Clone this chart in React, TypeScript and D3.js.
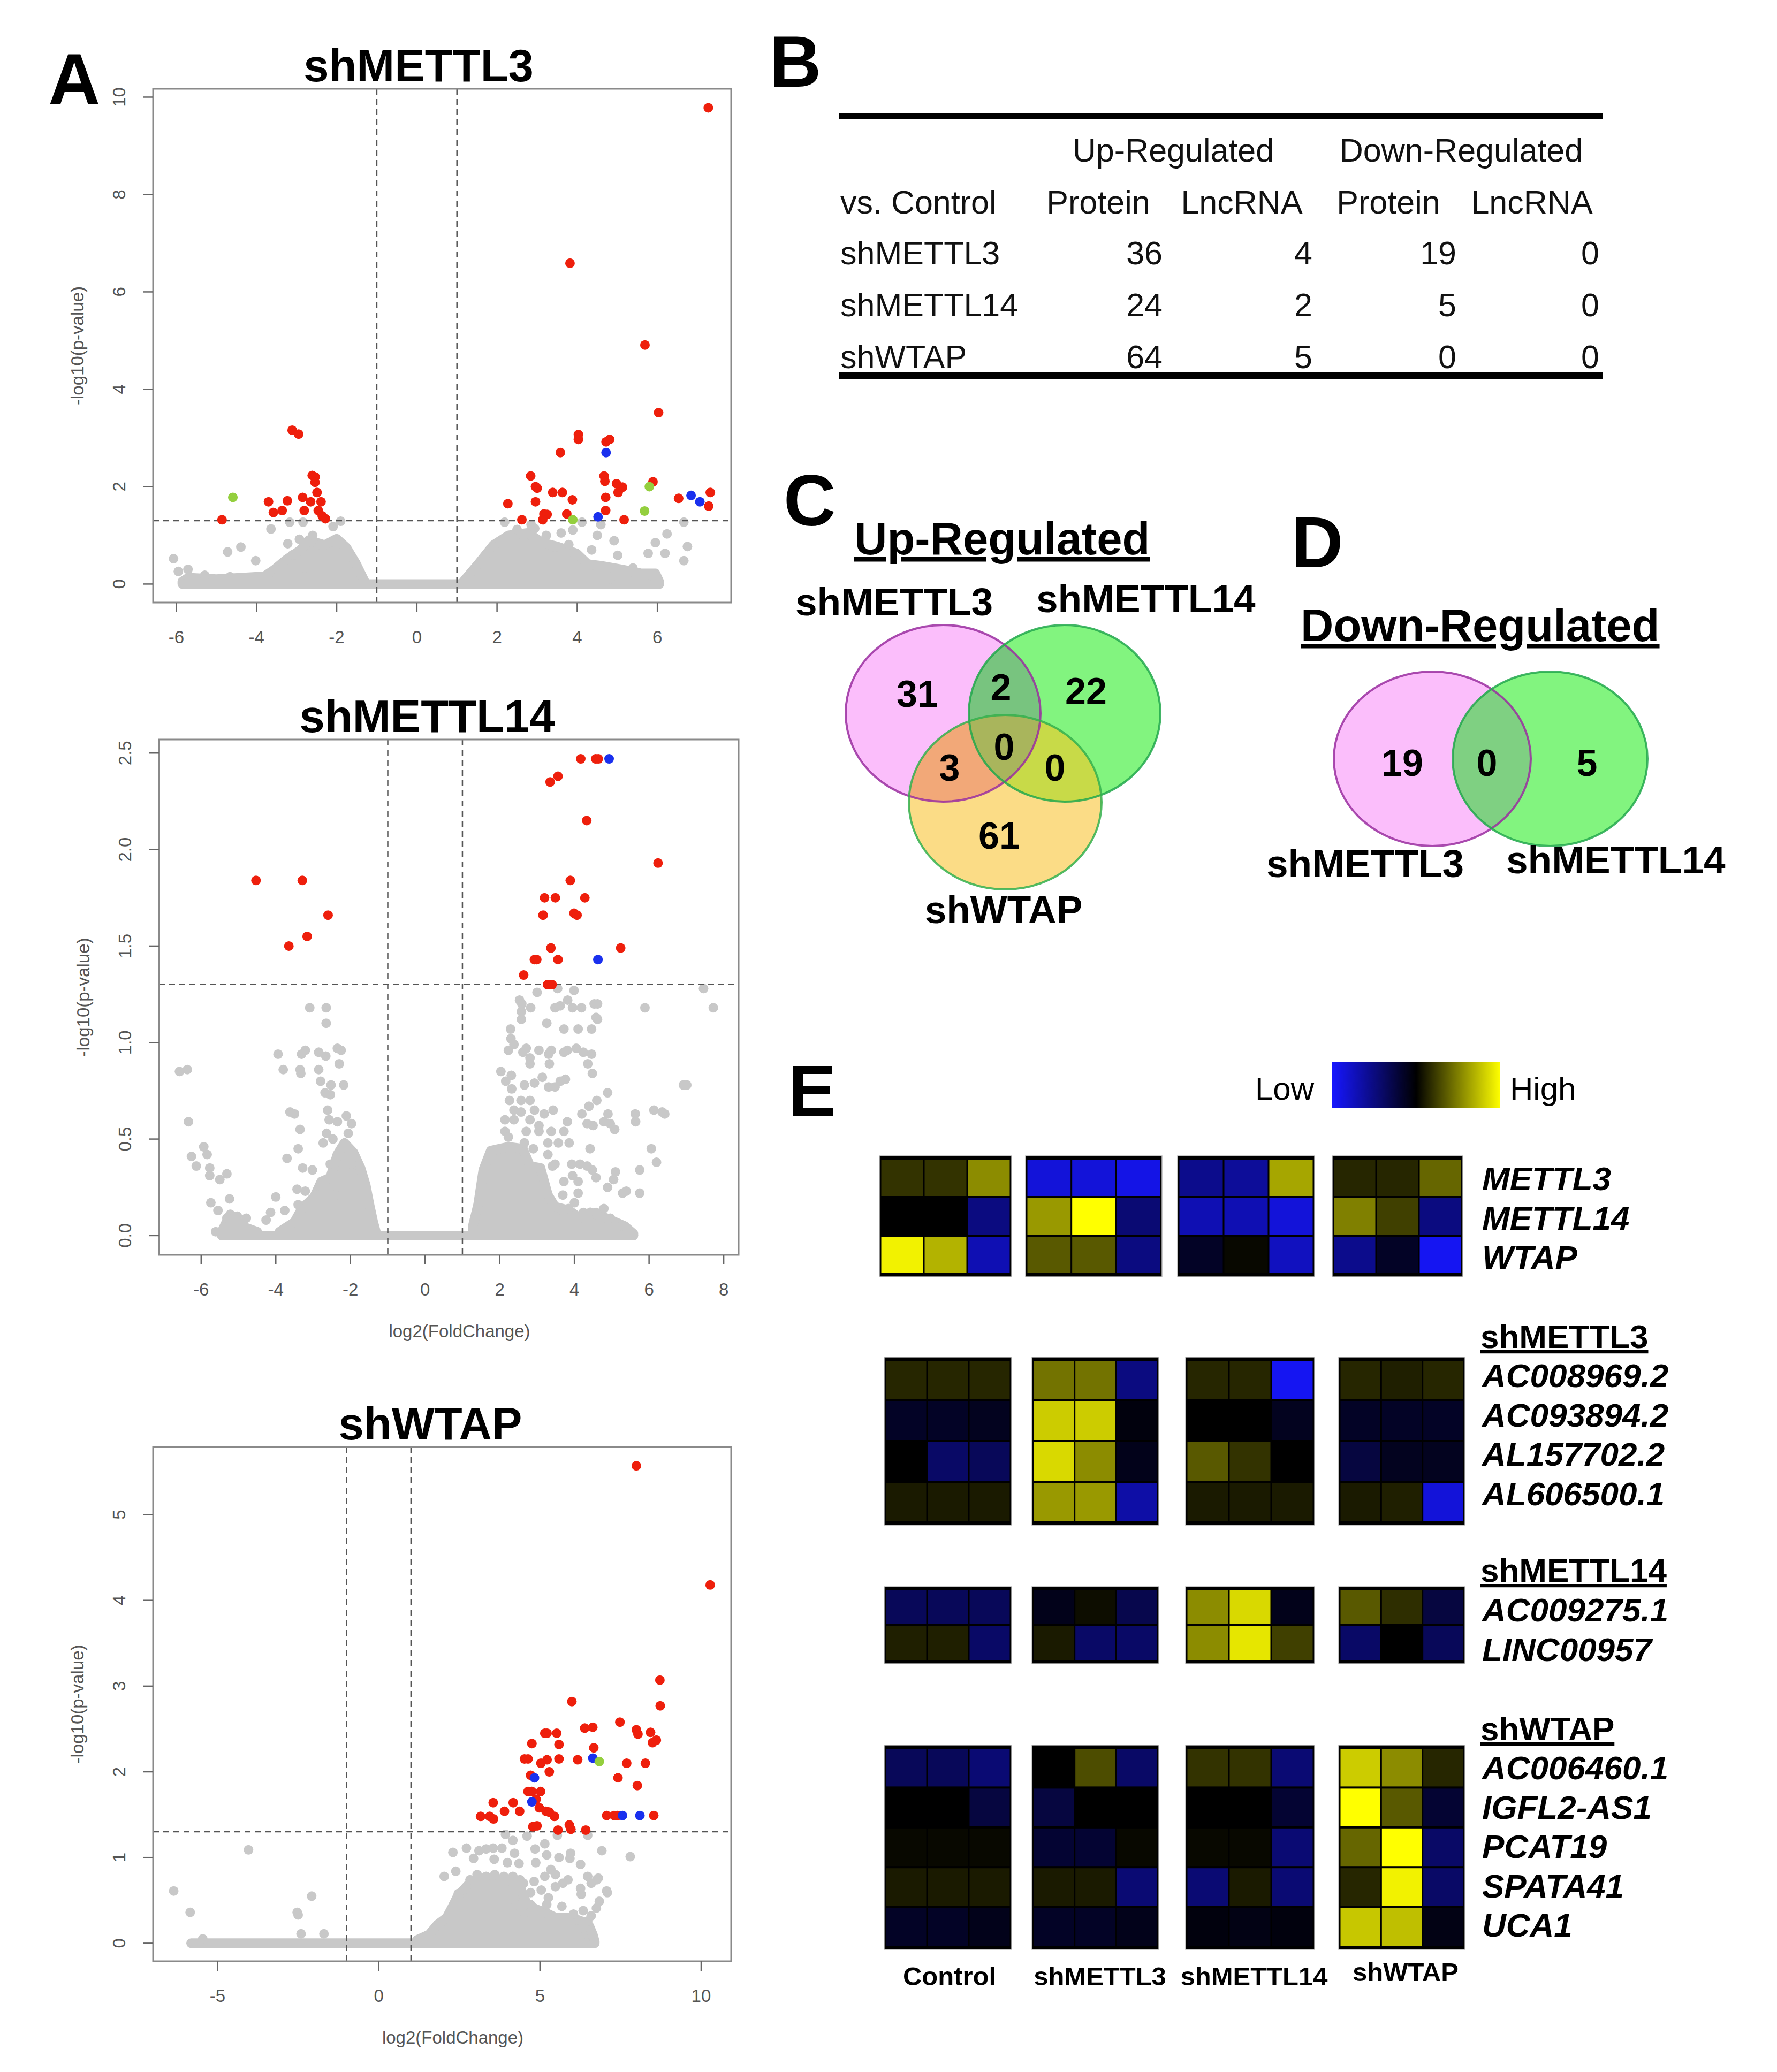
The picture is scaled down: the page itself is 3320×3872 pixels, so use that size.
import React from 'react'
import * as d3 from 'd3'

const FONT = '"Liberation Sans", Arial, Helvetica, sans-serif'

type Pt = [number, number]

// ---------- A: volcano plots (log2 fold change, -log10 p) ----------
const m3Red: Pt[] = [
    [7.27, 9.78], [3.82, 6.59], [5.69, 4.91], [6.03, 3.52], [-3.11, 3.16], [-2.95, 3.08], [4.03, 3.07], [4.03, 2.97],
    [4.72, 2.92], [4.81, 2.97], [3.58, 2.7], [-2.61, 2.23], [-2.54, 2.2], [-2.54, 2.09], [-2.49, 1.88], [-2.85, 1.78],
    [-2.65, 1.69], [-2.39, 1.69], [-3.7, 1.69], [-3.23, 1.71], [-3.58, 1.47], [-3.36, 1.51], [-2.81, 1.51], [-2.46, 1.51],
    [-2.36, 1.4], [-2.28, 1.34], [-4.86, 1.32], [2.84, 2.22], [2.96, 2.0], [3.0, 1.97], [2.27, 1.65], [2.96, 1.69],
    [3.39, 1.88], [3.63, 1.88], [3.88, 1.73], [3.17, 1.44], [3.25, 1.43], [3.14, 1.32], [2.62, 1.32], [3.74, 1.44],
    [4.67, 2.22], [4.69, 2.11], [4.71, 1.78], [4.71, 1.51], [4.98, 2.06], [5.13, 1.99], [5.02, 1.88], [5.89, 2.1],
    [5.17, 1.32], [6.53, 1.76], [7.32, 1.88], [7.28, 1.6]
]
const m3Blue: Pt[] = [[4.72, 2.7], [4.52, 1.38], [6.84, 1.82], [7.06, 1.69]]
const m3Green: Pt[] = [[-4.59, 1.78], [5.8, 2.0], [5.68, 1.5], [3.89, 1.32]]
const m3Gray: Pt[] = [
    [-6.07, 0.52], [-5.95, 0.26], [-5.71, 0.3], [-5.29, 0.18], [-4.72, 0.66], [-4.39, 0.76], [-4.66, 0.15], [-4.02, 0.48],
    [-3.64, 1.13], [-3.22, 0.83], [-3.17, 1.27], [-2.93, 0.92], [-2.84, 1.27], [-2.79, 0.33], [-2.42, 0.81], [-2.09, 1.18],
    [-1.9, 1.29], [-3.36, 0.41], [-3.5, 0.3], [-3.1, 0.6], [-2.6, 1.0], [1.91, 0.77], [2.19, 1.27], [2.85, 1.22],
    [2.94, 1.14], [3.23, 1.0], [3.41, 0.77], [3.79, 0.81], [3.89, 1.11], [4.12, 1.27], [4.36, 0.7], [4.5, 1.0],
    [4.59, 1.22], [4.92, 0.89], [5.01, 0.59], [5.77, 0.63], [5.95, 0.85], [6.24, 1.03], [6.19, 0.63], [6.75, 0.77],
    [6.66, 0.48], [6.66, 1.27], [5.39, 0.33], [4.83, 0.11], [3.6, 1.05], [2.5, 1.12]
]
const m3Wings: Pt[][] = [
    [[-5.85, 0.05], [-5.7, 0.13], [-5.0, 0.1], [-3.8, 0.16], [-3.55, 0.3], [-3.26, 0.5], [-2.9, 0.7], [-2.7, 0.9],
        [-2.3, 0.8], [-2.0, 0.93], [-1.76, 0.75], [-1.52, 0.42], [-1.3, 0.05]],
    [[1.16, 0.05], [1.53, 0.41], [1.91, 0.8], [2.29, 1.0], [2.76, 1.05], [3.13, 0.85], [3.51, 0.77], [3.98, 0.63],
        [4.26, 0.41], [4.64, 0.37], [5.11, 0.3], [5.58, 0.22], [5.95, 0.22], [6.05, 0.04]]
]
const m3Baseline: Pt = [-5.8, 5.75]

const m14Red: Pt[] = [
    [4.17, 2.47], [4.57, 2.47], [4.64, 2.47], [3.35, 2.35], [3.56, 2.38], [4.33, 2.15], [6.24, 1.93], [-4.53, 1.84],
    [-3.29, 1.84], [-2.6, 1.66], [-3.16, 1.55], [-3.65, 1.5], [3.89, 1.84], [3.2, 1.75], [3.49, 1.75], [4.28, 1.75],
    [3.16, 1.66], [3.99, 1.67], [4.07, 1.66], [3.37, 1.49], [5.24, 1.49], [2.93, 1.43], [2.99, 1.43], [3.56, 1.43],
    [2.64, 1.35], [3.28, 1.3], [3.4, 1.3]
]
const m14Blue: Pt[] = [[4.93, 2.47], [4.63, 1.43]]
const m14Green: Pt[] = []
const m14Gray: Pt[] = [
    // left side
    [-6.58, 0.85], [-6.37, 0.86], [-6.34, 0.59], [-5.93, 0.46], [-5.84, 0.42], [-6.26, 0.41], [-6.13, 0.36], [-5.77, 0.35],
    [-5.77, 0.31], [-5.5, 0.29], [-5.31, 0.32], [-5.74, 0.17], [-5.55, 0.13], [-5.24, 0.19], [-5.31, 0.09], [-5.03, 0.1],
    [-4.79, 0.09], [-5.61, 0.02], [-4.0, 0.2], [-4.26, 0.08], [-4.14, 0.12], [-3.76, 0.13], [-3.94, 0.94], [-3.8, 0.86],
    [-3.62, 0.64], [-3.5, 0.63], [-3.35, 0.55], [-3.4, 0.45], [-3.7, 0.4], [-3.28, 0.35], [-3.02, 0.34], [-3.43, 0.24],
    [-3.21, 0.23], [-2.9, 0.21], [-3.4, 0.16], [-3.09, 1.18], [-2.65, 1.18], [-2.65, 1.1], [-3.21, 0.96], [-3.31, 0.94],
    [-2.85, 0.95], [-2.66, 0.93], [-2.35, 0.97], [-2.25, 0.96], [-2.3, 0.89], [-3.35, 0.86], [-3.33, 0.84], [-2.85, 0.86],
    [-2.8, 0.8], [-2.52, 0.78], [-2.18, 0.78], [-2.68, 0.74], [-2.54, 0.73], [-2.61, 0.65], [-2.57, 0.6], [-2.11, 0.62],
    [-2.35, 0.59], [-1.97, 0.58], [-2.64, 0.53], [-2.06, 0.53], [-2.73, 0.48], [-2.47, 0.5], [-2.54, 0.37], [-2.64, 0.25],
    [-2.4, 0.21], [-1.97, 0.37],
    // right side
    [3.0, 1.26], [3.55, 1.28], [3.99, 1.27], [2.53, 1.22], [2.59, 1.2], [2.83, 1.18], [3.48, 1.18], [3.62, 1.19],
    [3.82, 1.22], [3.95, 1.18], [4.19, 1.18], [4.53, 1.2], [4.62, 1.2], [2.58, 1.16], [2.58, 1.12], [3.26, 1.1],
    [4.58, 1.13], [4.62, 1.12], [2.29, 1.07], [3.72, 1.07], [4.1, 1.07], [4.46, 1.07], [2.3, 1.02], [2.23, 0.96],
    [2.38, 0.99], [2.62, 0.95], [2.71, 0.97], [2.81, 0.92], [2.81, 0.89], [3.05, 0.96], [3.31, 0.94], [3.38, 0.96],
    [3.33, 0.89], [3.72, 0.95], [3.81, 0.96], [4.05, 0.97], [4.24, 0.95], [4.46, 0.94], [4.36, 0.89], [4.48, 0.84],
    [2.03, 0.85], [2.31, 0.83], [2.16, 0.8], [2.32, 0.76], [2.66, 0.78], [2.93, 0.79], [3.14, 0.82], [3.31, 0.77],
    [3.48, 0.77], [3.62, 0.8], [3.76, 0.81], [2.26, 0.7], [2.57, 0.7], [2.81, 0.7], [2.38, 0.65], [2.57, 0.64],
    [2.93, 0.65], [2.14, 0.6], [2.38, 0.6], [2.81, 0.6], [3.19, 0.63], [3.43, 0.65], [2.14, 0.54], [2.23, 0.51],
    [2.71, 0.54], [3.05, 0.54], [3.05, 0.57], [3.38, 0.54], [3.72, 0.54], [3.81, 0.59], [2.66, 0.48], [3.29, 0.48],
    [3.57, 0.48], [3.86, 0.48], [2.9, 0.45], [3.29, 0.42], [3.48, 0.37], [3.41, 0.36], [4.89, 0.74], [4.6, 0.7],
    [4.39, 0.67], [4.2, 0.63], [4.34, 0.58], [4.5, 0.57], [4.9, 0.63], [4.79, 0.59], [4.96, 0.58], [5.08, 0.55],
    [5.63, 0.63], [5.64, 0.59], [6.13, 0.65], [6.42, 0.63], [6.35, 0.64], [6.92, 0.78], [7.01, 0.78], [5.89, 1.18],
    [7.46, 1.28], [7.72, 1.18], [4.42, 0.45], [6.06, 0.45], [6.2, 0.38], [5.75, 0.34], [3.93, 0.37], [4.15, 0.37],
    [4.34, 0.36], [4.48, 0.34], [4.58, 0.3], [3.95, 0.31], [4.1, 0.28], [3.72, 0.28], [5.1, 0.33], [5.05, 0.29],
    [4.89, 0.25], [5.29, 0.22], [5.39, 0.23], [5.75, 0.22], [3.69, 0.21], [4.1, 0.22], [4.0, 0.17], [4.79, 0.14],
    [4.96, 0.09], [5.27, 0.05], [4.58, 0.12], [4.24, 0.12], [3.67, 0.13], [3.84, 0.14]
]
const m14Wings: Pt[][] = [
    [[-5.45, 0.02], [-5.22, 0.11], [-5.0, 0.07], [-4.79, 0.04], [-4.5, 0.02]],
    [[-3.9, 0.02], [-3.5, 0.07], [-3.3, 0.14], [-2.97, 0.2], [-2.78, 0.28], [-2.54, 0.3], [-2.35, 0.42], [-2.16, 0.48],
        [-1.92, 0.43], [-1.73, 0.35], [-1.59, 0.26], [-1.49, 0.16], [-1.39, 0.07], [-1.32, 0.02]],
    [[1.28, 0.05], [1.42, 0.16], [1.56, 0.34], [1.76, 0.44], [2.23, 0.46], [2.62, 0.45], [2.81, 0.36], [3.09, 0.35],
        [3.29, 0.21], [3.48, 0.15], [3.86, 0.13], [4.15, 0.09], [4.43, 0.12], [4.86, 0.09], [5.34, 0.05], [5.58, 0.01]]
]
const m14Baseline: Pt = [-5.38, 5.58]

const wtapRed: Pt[] = [
    [7.99, 5.57], [10.28, 4.18], [8.72, 3.07], [8.73, 2.77], [5.99, 2.82], [7.48, 2.58], [6.39, 2.51], [6.64, 2.52],
    [5.15, 2.45], [5.22, 2.45], [5.52, 2.45], [5.59, 2.32], [4.75, 2.33], [6.67, 2.28], [7.99, 2.49], [8.04, 2.44],
    [8.43, 2.46], [8.49, 2.34], [8.61, 2.37], [4.52, 2.15], [4.63, 2.15], [5.22, 2.14], [5.03, 2.1], [5.59, 2.15],
    [6.17, 2.14], [7.69, 2.1], [8.27, 2.1], [4.71, 1.96], [5.29, 2.0], [7.42, 1.93], [8.02, 1.84], [4.63, 1.77],
    [4.75, 1.77], [5.02, 1.77], [4.88, 1.68], [3.55, 1.64], [4.17, 1.64], [3.9, 1.54], [4.37, 1.54], [4.98, 1.58],
    [5.19, 1.54], [5.29, 1.53], [5.45, 1.48], [3.16, 1.48], [3.44, 1.48], [3.56, 1.45], [7.07, 1.49], [7.3, 1.49],
    [7.41, 1.49], [8.53, 1.49], [4.78, 1.36], [4.91, 1.37], [5.56, 1.32], [5.91, 1.38], [5.96, 1.33], [6.42, 1.32]
]
const wtapBlue: Pt[] = [[6.64, 2.16], [4.83, 1.93], [4.75, 1.65], [7.56, 1.49], [8.1, 1.49]]
const wtapGreen: Pt[] = [[6.84, 2.12]]
const wtapGray: Pt[] = [
    [-6.36, 0.61], [-5.85, 0.36], [-4.04, 1.09], [-2.53, 0.36], [-2.5, 0.33], [-2.08, 0.55], [-2.41, 0.11], [-1.7, 0.11],
    [-5.46, 0.05], [2.3, 1.06], [2.72, 1.11], [2.94, 0.99], [3.11, 1.08], [3.33, 1.1], [3.55, 1.11], [3.82, 1.11],
    [3.58, 0.98], [3.99, 0.94], [4.16, 1.2], [4.21, 1.05], [4.35, 0.93], [4.6, 1.25], [3.93, 1.27], [4.85, 1.1],
    [5.15, 1.16], [5.21, 1.03], [4.87, 0.94], [5.59, 1.0], [5.95, 1.05], [5.93, 0.99], [6.26, 0.92], [5.54, 1.26],
    [6.48, 1.26], [6.92, 1.08], [7.8, 1.01], [2.39, 0.84], [2.03, 0.78], [5.34, 0.86], [5.15, 0.78], [5.48, 0.8],
    [5.87, 0.74], [4.82, 0.72], [4.71, 0.59], [5.04, 0.62], [5.48, 0.66], [5.71, 0.7], [5.26, 0.53], [5.21, 0.45],
    [5.68, 0.43], [6.48, 0.78], [6.81, 0.76], [6.59, 0.7], [6.26, 0.64], [6.28, 0.57], [7.09, 0.59], [6.84, 0.49],
    [6.75, 0.41], [6.59, 0.32], [6.48, 0.26], [6.34, 0.38], [6.04, 0.34], [6.17, 0.16], [6.42, 0.0], [2.47, 0.58],
    [4.27, 0.45], [4.71, 0.45], [4.49, 0.28], [2.83, 0.74], [3.05, 0.8], [3.33, 0.78], [3.6, 0.8], [3.88, 0.78],
    [4.16, 0.78], [4.38, 0.74], [4.49, 0.7], [6.76, 0.74], [7.07, 0.61]
]
const wtapWings: Pt[][] = [
    [[1.2, 0.04], [1.56, 0.1], [1.83, 0.22], [2.11, 0.3], [2.28, 0.42], [2.45, 0.55], [2.77, 0.68], [2.94, 0.73],
        [3.22, 0.75], [3.6, 0.75], [3.93, 0.74], [4.16, 0.72], [4.38, 0.66], [4.6, 0.45], [4.87, 0.4], [5.15, 0.36],
        [5.48, 0.3], [5.98, 0.3], [6.26, 0.26], [6.53, 0.2], [6.64, 0.1], [6.7, 0.02]]
]
const wtapBaseline: Pt = [-5.82, 6.45]

const m3XTicks = [-6, -4, -2, 0, 2, 4, 6]
const m3YTicks = [0, 2, 4, 6, 8, 10]
const m14XTicks = [-6, -4, -2, 0, 2, 4, 6, 8]
const m14YTicks = [0, 0.5, 1.0, 1.5, 2.0, 2.5]
const wtapXTicks = [-5, 0, 5, 10]
const wtapYTicks = [0, 1, 2, 3, 4, 5]

const foldCut = 1
const pCut = -Math.log10(0.05)

// ---------- B: counts table ----------
const tableGroups = ['Up-Regulated', 'Down-Regulated']
const tableCols = ['Protein', 'LncRNA', 'Protein', 'LncRNA']
const tableRows = ['shMETTL3', 'shMETTL14', 'shWTAP']
const tableValues = [[36, 4, 19, 0], [24, 2, 5, 0], [64, 5, 0, 0]]

// ---------- C / D: venn counts ----------
const vennUpSets = ['shMETTL3', 'shMETTL14', 'shWTAP']
// only3, 3&14, only14, all, 3&W, 14&W, onlyW
const vennUpCounts = [31, 2, 22, 0, 3, 0, 61]
const vennDownSets = ['shMETTL3', 'shMETTL14']
// only3, both, only14
const vennDownCounts = [19, 0, 5]

// ---------- E: heatmap (scaled expression, 3 replicates per condition) ----------
const conditions = ['Control', 'shMETTL3', 'shMETTL14', 'shWTAP']
const coreGenes = ['METTL3', 'METTL14', 'WTAP']
const coreValues = [
    [0.2, 0.2, 0.55, -0.85, -0.85, -0.9, -0.55, -0.6, 0.65, 0.15, 0.15, 0.4],
    [0, 0, -0.5, 0.6, 1.0, -0.45, -0.7, -0.7, -0.85, 0.5, 0.25, -0.5],
    [0.95, 0.7, -0.7, 0.35, 0.35, -0.5, -0.15, 0.03, -0.75, -0.55, -0.15, -0.95]
]
const m3LncGenes = ['AC008969.2', 'AC093894.2', 'AL157702.2', 'AL606500.1']
const m3LncValues = [
    [0.15, 0.15, 0.15, 0.45, 0.45, -0.5, 0.15, 0.15, -0.95, 0.15, 0.12, 0.15],
    [-0.15, -0.15, -0.12, 0.8, 0.8, -0.05, 0, 0, -0.12, -0.15, -0.15, -0.15],
    [0, -0.4, -0.35, 0.85, 0.55, -0.1, 0.35, 0.2, 0, -0.25, -0.12, -0.12],
    [0.1, 0.1, 0.1, 0.6, 0.6, -0.65, 0.1, 0.1, 0.1, 0.1, 0.12, -0.85]
]
const m14LncGenes = ['AC009275.1', 'LINC00957']
const m14LncValues = [
    [-0.35, -0.35, -0.35, -0.1, 0.05, -0.3, 0.55, 0.85, -0.1, 0.35, 0.18, -0.25],
    [0.12, 0.12, -0.4, 0.1, -0.4, -0.4, 0.55, 0.9, 0.25, -0.4, 0, -0.35]
]
const wtapLncGenes = ['AC006460.1', 'IGFL2-AS1', 'PCAT19', 'SPATA41', 'UCA1']
const wtapLncValues = [
    [-0.35, -0.35, -0.45, 0, 0.3, -0.4, 0.2, 0.2, -0.45, 0.8, 0.55, 0.15],
    [0, 0, -0.25, -0.25, 0, 0, 0, 0, -0.2, 1.0, 0.35, -0.2],
    [0.03, 0.03, 0.03, -0.2, -0.2, 0.03, 0.03, 0.03, -0.45, 0.4, 1.0, -0.4],
    [0.1, 0.1, 0.1, 0.1, 0.1, -0.45, -0.45, 0.1, -0.45, 0.15, 0.95, -0.4],
    [-0.15, -0.15, -0.1, -0.15, -0.15, -0.1, -0.05, -0.08, -0.05, 0.78, 0.75, -0.08]
]

const heatColor = d3.scaleLinear<string>().domain([-1, 0, 1]).range(['#1616ff', '#000000', '#ffff00'])

const COLORS = {
    red: '#ee1f0c',
    blue: '#1a30ee',
    green: '#94cf3e',
    gray: '#c8c8c8'
}

interface VolcanoProps {
    title: string
    titleX: number
    box: { left: number, top: number, right: number, bottom: number }
    xDomain: number[]
    yDomain: number[]
    xTicks: number[]
    yTicks: number[]
    yFormat: (v: number) => string
    red: Pt[]
    blue: Pt[]
    green: Pt[]
    gray: Pt[]
    wings: Pt[][]
    baseline: Pt
    xLabel?: boolean
}

const DOT_R = 9

/** One volcano panel, R base-graphics look */
const Volcano = (props: VolcanoProps) => {
    const { box } = props
    const x = d3.scaleLinear().domain(props.xDomain).range([box.left, box.right])
    const y = d3.scaleLinear().domain(props.yDomain).range([box.bottom, box.top])
    const area = d3.area<Pt>().x(d => x(d[0])).y0(y(0)).y1(d => y(d[1]))
    const tickCol = '#555'
    const dots = (pts: Pt[], fill: string) => pts.map((d, i) => (
        <circle key={i} cx={x(d[0])} cy={y(d[1])} r={DOT_R} fill={fill} />
    ))

    return (
        <g>
            <text x={props.titleX} y={box.top - 14} textAnchor='middle' fontSize={85} fontWeight='bold'>{props.title}</text>
            {props.wings.map((w, i) => (
                <path key={i} d={area(w) || ''} fill={COLORS.gray} stroke={COLORS.gray}
                    strokeWidth={DOT_R * 2} strokeLinejoin='round' />
            ))}
            <line x1={x(props.baseline[0])} x2={x(props.baseline[1])} y1={y(0)} y2={y(0)}
                stroke={COLORS.gray} strokeWidth={DOT_R * 2} strokeLinecap='round' />
            {dots(props.gray, COLORS.gray)}
            <g stroke='#555' strokeWidth={2.5} strokeDasharray='11 8'>
                <line x1={x(-foldCut)} x2={x(-foldCut)} y1={box.top} y2={box.bottom} />
                <line x1={x(foldCut)} x2={x(foldCut)} y1={box.top} y2={box.bottom} />
                <line x1={box.left} x2={box.right} y1={y(pCut)} y2={y(pCut)} />
            </g>
            {dots(props.red, COLORS.red)}
            {dots(props.blue, COLORS.blue)}
            {dots(props.green, COLORS.green)}
            <rect x={box.left} y={box.top} width={box.right - box.left} height={box.bottom - box.top}
                fill='none' stroke='#8a8a8a' strokeWidth={3} />
            {props.xTicks.map(t => (
                <g key={t}>
                    <line x1={x(t)} x2={x(t)} y1={box.bottom} y2={box.bottom + 18} stroke='#666' strokeWidth={2.5} />
                    <text x={x(t)} y={box.bottom + 76} textAnchor='middle' fontSize={33} fill={tickCol}>{t}</text>
                </g>
            ))}
            {props.yTicks.map(t => (
                <g key={t}>
                    <line x1={box.left - 18} x2={box.left} y1={y(t)} y2={y(t)} stroke='#666' strokeWidth={2.5} />
                    <text transform={`translate(${box.left - 52}, ${y(t)}) rotate(-90)`} textAnchor='middle'
                        fontSize={33} fill={tickCol}>{props.yFormat(t)}</text>
                </g>
            ))}
            <text transform={`translate(${box.left - 130}, ${(box.top + box.bottom) / 2}) rotate(-90)`}
                textAnchor='middle' fontSize={33} fill={tickCol}>-log10(p-value)</text>
            {props.xLabel && (
                <text x={(box.left + box.right) / 2 + 20} y={box.bottom + 154} textAnchor='middle'
                    fontSize={33} fill={tickCol}>log2(FoldChange)</text>
            )}
        </g>
    )
}

/** Panel B table */
const CountTable = () => {
    const groupX = [2192, 2730]
    const colX = [2052, 2320, 2594, 2862]
    const numRight = [2172, 2452, 2721, 2988]
    const rowY = [494, 591, 688]
    return (
        <g fontSize={61} fill='#111'>
            <rect x={1567} y={212} width={1428} height={10} fill='#000' />
            {tableGroups.map((g, i) => (
                <text key={g} x={groupX[i]} y={302} textAnchor='middle'>{g}</text>
            ))}
            <text x={1570} y={399}>vs. Control</text>
            {tableCols.map((c, i) => (
                <text key={i} x={colX[i]} y={399} textAnchor='middle'>{c}</text>
            ))}
            {tableRows.map((r, ri) => (
                <g key={r}>
                    <text x={1570} y={rowY[ri]}>{r}</text>
                    {tableValues[ri].map((v, ci) => (
                        <text key={ci} x={numRight[ci]} y={rowY[ri]} textAnchor='end'>{v}</text>
                    ))}
                </g>
            ))}
            <rect x={1567} y={696} width={1428} height={12} fill='#000' />
        </g>
    )
}

type Ell = { cx: number, cy: number, rx: number, ry: number }

/** Panel C three-set venn */
const VennUp = () => {
    const e: Ell[] = [
        { cx: 1762, cy: 1333, rx: 182, ry: 165 },
        { cx: 1989, cy: 1333, rx: 179, ry: 165 },
        { cx: 1878, cy: 1499, rx: 180, ry: 163 }
    ]
    const fills = ['#fbbefb', '#82f47f', '#fbdc86']
    const strokes = ['#9a2ea0', '#22a84c', '#34b04e']
    const labelPos = [[1714, 1296], [1870, 1284], [2029, 1291], [1876, 1395], [1774, 1434], [1971, 1434], [1867, 1561]]
    const ell = (k: number, props: any = {}) => <ellipse {...e[k]} {...props} />
    return (
        <g>
            <defs>
                {e.map((_, i) => <clipPath key={i} id={`vu${i}`}>{ell(i)}</clipPath>)}
            </defs>
            {e.map((_, i) => <g key={i}>{ell(i, { fill: fills[i] })}</g>)}
            <g clipPath='url(#vu0)'>{ell(1, { fill: '#78c47f' })}{ell(2, { fill: '#f2a878' })}</g>
            <g clipPath='url(#vu1)'>{ell(2, { fill: '#c8da48' })}</g>
            <g clipPath='url(#vu0)'><g clipPath='url(#vu1)'>{ell(2, { fill: '#a9b55c' })}</g></g>
            {e.map((_, i) => <g key={i}>{ell(i, { fill: 'none', stroke: strokes[i], strokeWidth: 4, strokeOpacity: 0.85 })}</g>)}
            {vennUpCounts.map((c, i) => (
                <text key={i} x={labelPos[i][0]} y={labelPos[i][1]} dy='0.36em' textAnchor='middle'
                    fontSize={70} fontWeight='bold'>{c}</text>
            ))}
            <text x={1596} y={1036} fontSize={85} fontWeight='bold' textDecoration='underline'>Up-Regulated</text>
            <text x={1486} y={1150} fontSize={73} fontWeight='bold'>{vennUpSets[0]}</text>
            <text x={1936} y={1144} fontSize={73} fontWeight='bold'>{vennUpSets[1]}</text>
            <text x={1875} y={1725} fontSize={73} fontWeight='bold' textAnchor='middle'>{vennUpSets[2]}</text>
        </g>
    )
}

/** Panel D two-set venn */
const VennDown = () => {
    const e: Ell[] = [
        { cx: 2676, cy: 1418, rx: 184, ry: 163 },
        { cx: 2896, cy: 1418, rx: 182, ry: 163 }
    ]
    const labelPos = [[2620, 1425], [2778, 1425], [2965, 1425]]
    return (
        <g>
            <defs><clipPath id='vd0'><ellipse {...e[0]} /></clipPath></defs>
            <ellipse {...e[0]} fill='#fbbefb' />
            <ellipse {...e[1]} fill='#82f47f' />
            <g clipPath='url(#vd0)'><ellipse {...e[1]} fill='#7fd082' /></g>
            <ellipse {...e[0]} fill='none' stroke='#9a2ea0' strokeWidth={4} strokeOpacity={0.85} />
            <ellipse {...e[1]} fill='none' stroke='#22a84c' strokeWidth={4} strokeOpacity={0.85} />
            {vennDownCounts.map((c, i) => (
                <text key={i} x={labelPos[i][0]} y={labelPos[i][1]} dy='0.36em' textAnchor='middle'
                    fontSize={70} fontWeight='bold'>{c}</text>
            ))}
            <text x={2430} y={1198} fontSize={85} fontWeight='bold' textDecoration='underline'>Down-Regulated</text>
            <text x={2366} y={1639} fontSize={73} fontWeight='bold'>{vennDownSets[0]}</text>
            <text x={2814} y={1632} fontSize={73} fontWeight='bold'>{vennDownSets[1]}</text>
        </g>
    )
}

interface HeatGroupProps {
    values: number[][]
    top: number
    rowH: number
    blockX: number[]
    blockW: number[]
}

/** One block row-group of the heatmap: 4 conditions x 3 replicates */
const HeatGroup = (props: HeatGroupProps) => {
    const rows = props.values.length
    return (
        <g>
            {conditions.map((c, ci) => {
                const x = d3.scaleBand<number>().domain([0, 1, 2]).range([props.blockX[ci], props.blockX[ci] + props.blockW[ci]])
                const y = d3.scaleBand<number>().domain(d3.range(rows)).range([props.top, props.top + rows * props.rowH])
                return (
                    <g key={c}>
                        <rect x={props.blockX[ci] - 2} y={props.top - 5} width={props.blockW[ci] + 4}
                            height={rows * props.rowH + 10} fill='#000' stroke='#bbb' strokeWidth={1.5} />
                        {props.values.map((row, ri) => [0, 1, 2].map(k => (
                            <rect key={`${ri}-${k}`} x={x(k)! + 1.5} y={y(ri)! + 2} width={x.bandwidth() - 3}
                                height={y.bandwidth() - 4} fill={heatColor(row[ci * 3 + k])} />
                        )))}
                    </g>
                )
            })}
        </g>
    )
}

const Heatmap = () => {
    const wideX = [1645, 1918, 2202, 2491]
    const wideW = [243, 251, 252, 240]
    const narrowX = [1654, 1930, 2217, 2503]
    const narrowW = [234, 233, 237, 232]
    const labelX = 2769
    const lines = (names: string[], start: number, step: number) => names.map((n, i) => (
        <text key={n} x={labelX} y={start + i * step} fontSize={62} fontWeight='bold' fontStyle='italic'>{n}</text>
    ))
    const header = (t: string, yy: number) => (
        <text x={labelX - 3} y={yy} fontSize={62} fontWeight='bold' textDecoration='underline'>{t}</text>
    )
    const condX = [1774, 2055, 2343, 2626]
    const grad = d3.range(0, 1.0001, 0.1).map(t => ({ t, c: heatColor(t * 2 - 1) }))
    return (
        <g>
            <defs>
                <linearGradient id='heatLegend' x1='0' x2='1' y1='0' y2='0'>
                    {grad.map(g => <stop key={g.t} offset={g.t} stopColor={g.c} />)}
                </linearGradient>
            </defs>
            <text x={2455} y={2055} fontSize={60} textAnchor='end'>Low</text>
            <rect x={2489} y={1985} width={314} height={85} fill='url(#heatLegend)' />
            <text x={2821} y={2055} fontSize={60}>High</text>

            <HeatGroup values={coreValues} top={2165} rowH={72} blockX={wideX} blockW={wideW} />
            {lines(coreGenes, 2224, 73.5)}

            <HeatGroup values={m3LncValues} top={2541} rowH={76} blockX={narrowX} blockW={narrowW} />
            {header('shMETTL3', 2519)}
            {lines(m3LncGenes, 2592, 73.7)}

            <HeatGroup values={m14LncValues} top={2970} rowH={67} blockX={narrowX} blockW={narrowW} />
            {header('shMETTL14', 2956)}
            {lines(m14LncGenes, 3030, 73.5)}

            <HeatGroup values={wtapLncValues} top={3266} rowH={74.4} blockX={narrowX} blockW={narrowW} />
            {header('shWTAP', 3252)}
            {lines(wtapLncGenes, 3325, 73.5)}

            {conditions.map((c, i) => (
                <text key={c} x={condX[i]} y={i === 3 ? 3702 : 3710} textAnchor='middle' fontSize={49} fontWeight='bold'>{c}</text>
            ))}
        </g>
    )
}

const PanelLetter = ({ x, y, t }: { x: number, y: number, t: string }) => (
    <text x={x} y={y} fontSize={135} fontWeight='bold'>{t}</text>
)

export default function App () {
    return (
        <svg width={3320} height={3872} viewBox='0 0 3320 3872' fontFamily={FONT}
            style={{ position: 'absolute', left: 0, top: 0, background: '#fff' }}>
            <rect width={3320} height={3872} fill='#fff' />
            <PanelLetter x={90} y={195} t='A' />
            <PanelLetter x={1437} y={162} t='B' />
            <PanelLetter x={1464} y={982} t='C' />
            <PanelLetter x={2412} y={1060} t='D' />
            <PanelLetter x={1472} y={2085} t='E' />

            <Volcano title='shMETTL3' titleX={782} box={{ left: 286, top: 166, right: 1366, bottom: 1126 }}
                xDomain={[-6.58, 7.84]} yDomain={[-0.38, 10.17]} xTicks={m3XTicks} yTicks={m3YTicks}
                yFormat={v => String(v)} red={m3Red} blue={m3Blue} green={m3Green} gray={m3Gray}
                wings={m3Wings} baseline={m3Baseline} />
            <Volcano title='shMETTL14' titleX={798} box={{ left: 297, top: 1382, right: 1380, bottom: 2345 }}
                xDomain={[-7.13, 8.4]} yDomain={[-0.1, 2.57]} xTicks={m14XTicks} yTicks={m14YTicks}
                yFormat={v => v.toFixed(1)} red={m14Red} blue={m14Blue} green={m14Green} gray={m14Gray}
                wings={m14Wings} baseline={m14Baseline} xLabel />
            <Volcano title='shWTAP' titleX={804} box={{ left: 286, top: 2704, right: 1366, bottom: 3665 }}
                xDomain={[-7.0, 10.93]} yDomain={[-0.21, 5.79]} xTicks={wtapXTicks} yTicks={wtapYTicks}
                yFormat={v => String(v)} red={wtapRed} blue={wtapBlue} green={wtapGreen} gray={wtapGray}
                wings={wtapWings} baseline={wtapBaseline} xLabel />

            <CountTable />
            <VennUp />
            <VennDown />
            <Heatmap />
        </svg>
    )
}
